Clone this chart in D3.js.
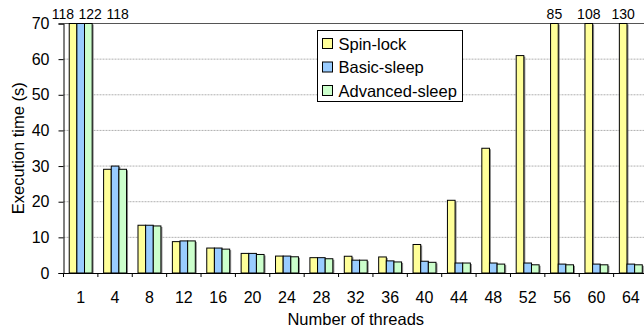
<!DOCTYPE html>
<html>
<head>
<meta charset="utf-8">
<script src="https://cdn.jsdelivr.net/npm/d3@7"></script>
<style>
	body { margin: 0; background: #fff; }
	text { font-family: "Liberation Sans", Arial, sans-serif; fill: #000; }
</style>
</head>
<body>
<div id="chart"></div>
<script>

var threads = ['1', '4', '8', '12', '16', '20', '24', '28', '32', '36', '40', '44', '48', '52', '56', '60', '64'];
var seriesNames = ['Spin-lock', 'Basic-sleep', 'Advanced-sleep'];
var spinLock = [118, 29.1, 13.4, 8.8, 7.0, 5.5, 4.75, 4.3, 4.7, 4.5, 8.0, 20.4, 35.0, 61.0, 85, 108, 130];
var basicSleep = [122, 30.0, 13.4, 9.0, 7.0, 5.5, 4.75, 4.3, 3.6, 3.4, 3.3, 2.8, 2.8, 2.8, 2.5, 2.5, 2.5];
var advancedSleep = [118, 29.1, 13.2, 9.0, 6.7, 5.2, 4.55, 4.0, 3.6, 3.1, 3.0, 2.8, 2.5, 2.3, 2.3, 2.3, 2.3];
var yTicks = [0, 10, 20, 30, 40, 50, 60, 70];

var svgWidth = 644;
var svgHeight = 330;
var colors = ['#FFFF99', '#99CCFF', '#CCFFCC'];

var margin = {left: 63.5, top: 23.5, right: -4, bottom: 57};
var plotW = svgWidth - margin.left - margin.right;
var plotH = svgHeight - margin.top - margin.bottom;

var svg = d3.select('#chart').append('svg')
	.attr('width', svgWidth)
	.attr('height', svgHeight);

var g = svg.append('g').attr('transform', 'translate(' + margin.left + ',' + margin.top + ')');

var x0 = d3.scaleBand().domain(threads).range([0, plotW]).padding(0);
var x1 = d3.scaleBand().domain(seriesNames).range([0, x0.bandwidth()]).paddingInner(0).paddingOuter(0.75);
var y = d3.scaleLinear().domain([0, 70]).range([plotH, 0]).clamp(true);
var color = d3.scaleOrdinal().domain(seriesNames).range(colors);

// gridlines
g.selectAll('.grid').data(yTicks.filter(function(d) { return d > 0 && d < 70; }))
	.enter().append('line')
	.attr('x1', 0).attr('x2', plotW)
	.attr('y1', function(d) { return y(d); }).attr('y2', function(d) { return y(d); })
	.attr('stroke', '#b0b0b0').attr('stroke-dasharray', '2,1');

// top border
g.append('line').attr('x1', 0).attr('x2', plotW).attr('y1', 0).attr('y2', 0)
	.attr('stroke', '#555').attr('stroke-width', 1.2);

var data = [];
threads.forEach(function(t, i) {
	data.push({t: t, s: seriesNames[0], v: spinLock[i]});
	data.push({t: t, s: seriesNames[1], v: basicSleep[i]});
	data.push({t: t, s: seriesNames[2], v: advancedSleep[i]});
});

// shadows
g.selectAll('.shadow').data(data).enter().append('rect')
	.attr('x', function(d) { return x0(d.t) + x1(d.s) + 1.5; })
	.attr('y', function(d) { return y(d.v) + 1; })
	.attr('width', x1.bandwidth())
	.attr('height', function(d) { return plotH - y(d.v) - 1; })
	.attr('fill', '#8a8a8a');

g.selectAll('.bar').data(data).enter().append('rect')
	.attr('x', function(d) { return x0(d.t) + x1(d.s); })
	.attr('y', function(d) { return y(d.v); })
	.attr('width', x1.bandwidth())
	.attr('height', function(d) { return plotH - y(d.v); })
	.attr('fill', function(d) { return color(d.s); })
	.attr('stroke', '#000').attr('stroke-width', 1);

// labels for clipped bars
var over = data.filter(function(d) { return d.v > 70; });
over.forEach(function(d) { d.cx = x0(d.t) + x1(d.s) + x1.bandwidth() / 2; d.w = String(d.v).length * 7.8; });
// push apart overlapping labels
for (var k = 1; k < over.length; k++) {
	var prev = over[k - 1], cur = over[k];
	var minGap = (prev.w + cur.w) / 2 + 4;
	if (cur.cx - prev.cx < minGap) cur.cx = prev.cx + minGap;
}
// recentre clusters that were pushed
var groups = d3.groups(over, function(d) { return d.t; });
groups.forEach(function(gr) {
	var arr = gr[1];
	if (arr.length > 1) {
		var barMean = d3.mean(arr, function(d) { return x0(d.t) + x1(d.s) + x1.bandwidth() / 2; });
		var labMean = d3.mean(arr, function(d) { return d.cx; });
		var shift = barMean - labMean + 9.5;
		arr.forEach(function(d) { d.cx += shift; });
	}
});
g.selectAll('.vlab').data(over).enter().append('text')
	.attr('x', function(d) { return d.cx; })
	.attr('y', -5)
	.attr('text-anchor', 'middle')
	.style('font-size', '14px')
	.text(function(d) { return d.v; });

// y axis
var yAxis = g.append('g').call(d3.axisLeft(y).tickValues(yTicks).tickSize(5).tickPadding(9));
yAxis.select('.domain').attr('stroke', '#000');
yAxis.selectAll('text').style('font-size', '16px');

// x axis
var xAxis = g.append('g').attr('transform', 'translate(0,' + plotH + ')')
	.call(d3.axisBottom(x0).tickSize(0).tickPadding(18.5));
xAxis.select('.domain').attr('stroke', '#000');
xAxis.selectAll('text').style('font-size', '16px');
g.selectAll('.xtick').data(threads).enter().append('line')
	.attr('x1', function(d) { return x0(d); }).attr('x2', function(d) { return x0(d); })
	.attr('y1', plotH).attr('y2', plotH + 4)
	.attr('stroke', '#000');

// axis titles
svg.append('text')
	.attr('transform', 'translate(23.5,' + (margin.top + plotH / 2) + ') rotate(-90)')
	.attr('text-anchor', 'middle')
	.style('font-size', '16.5px')
	.text('Execution time (s)');

svg.append('text')
	.attr('x', margin.left + plotW / 2)
	.attr('y', 325)
	.attr('text-anchor', 'middle')
	.style('font-size', '16.5px')
	.text('Number of threads');

// legend
var legend = svg.append('g').attr('transform', 'translate(317.5,30.5)');
legend.append('rect').attr('width', 145).attr('height', 71)
	.attr('fill', '#fff').attr('stroke', '#000');
var item = legend.selectAll('.item').data(seriesNames).enter().append('g')
	.attr('transform', function(d, i) { return 'translate(5,' + (8 + i * 23.5) + ')'; });
item.append('rect').attr('width', 10).attr('height', 10)
	.attr('fill', function(d) { return color(d); }).attr('stroke', '#000');
item.append('text').attr('x', 16).attr('y', 11)
	.style('font-size', '16.5px')
	.text(function(d) { return d; });

</script>
</body>
</html>
